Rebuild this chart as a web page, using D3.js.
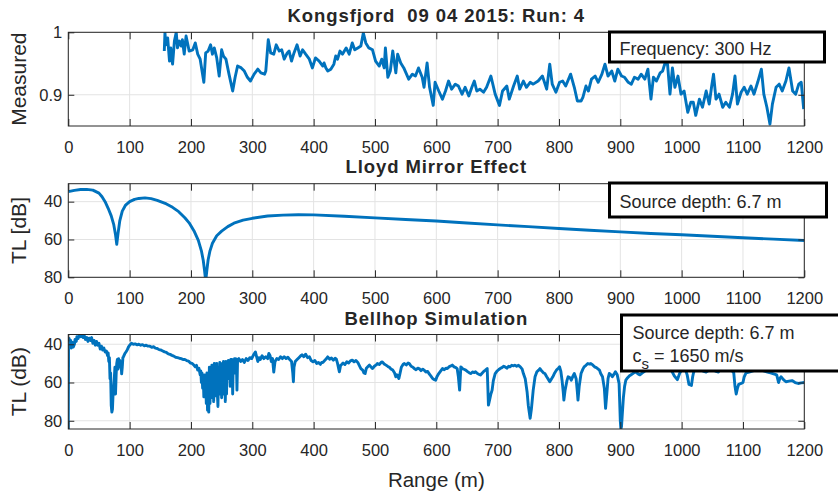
<!DOCTYPE html>
<html><head><meta charset="utf-8">
<script src="https://cdn.jsdelivr.net/npm/d3@7/dist/d3.min.js"></script>
<style>
body{margin:0;background:#fff}
svg text{font-family:"Liberation Sans",Arial,Helvetica,sans-serif;fill:#262626;white-space:pre}
</style></head>
<body><svg id="chart" width="838" height="492"></svg>
<script>
// ---------- data ----------
const xTicks = [0,100,200,300,400,500,600,700,800,900,1000,1100,1200];
const measuredTicks = [0.9, 1];
const tlTicks = [40, 60, 80];
const titles = ["Kongsfjord  09 04 2015: Run: 4", "Lloyd Mirror Effect", "Bellhop Simulation"];
const yLabels = ["Measured", "TL [dB]", "TL (dB)"];
const xLabel = "Range (m)";
const noteTop = "Frequency: 300 Hz";
const noteMid = "Source depth: 6.7 m";
const noteBot = ["Source depth: 6.7 m", "c", "s", " = 1650 m/s"];

// measured normalised level vs range (m)
const measured = [[156.5,0.970],[157.6,0.999],[159,0.980],[162,0.991],[165,0.954],[167,0.975],[170,0.949],[173,0.986],[176,1.0],[178,0.975],[181,0.986],[184,0.978],[186,0.988],[189,0.965],[192,0.994],[195,0.980],[197,0.970],[203,0.972],[207,0.983],[211,0.965],[215,0.957],[221,0.920],[224,0.967],[228,0.970],[232,0.980],[235,0.965],[238,0.975],[242,0.959],[246,0.930],[250,0.972],[253,0.962],[257,0.957],[262,0.933],[268,0.906],[272,0.928],[276,0.946],[282,0.943],[287,0.938],[292,0.928],[297,0.922],[303,0.933],[309,0.941],[314,0.935],[320,0.933],[322,0.938],[326,0.988],[330,0.967],[335,0.965],[339,0.980],[344,0.970],[348,0.972],[352,0.957],[357,0.967],[360,0.970],[364,0.954],[368,0.967],[373,0.980],[378,0.962],[382,0.972],[387,0.965],[393,0.957],[398,0.943],[403,0.959],[409,0.954],[415,0.946],[417,0.951],[420,0.943],[423,0.938],[428,0.941],[433,0.949],[436,0.962],[439,0.957],[443,0.970],[447,0.965],[453,0.975],[458,0.965],[463,0.983],[467,0.972],[472,0.975],[477,0.978],[481,0.999],[485,0.983],[490,0.975],[496,0.972],[501,0.954],[507,0.946],[511,0.957],[515,0.943],[517,0.975],[521,0.928],[525,0.938],[529,0.970],[534,0.935],[537,0.965],[542,0.951],[547,0.943],[555,0.925],[561,0.933],[566,0.930],[571,0.943],[577,0.928],[580,0.912],[585,0.951],[589,0.912],[595,0.883],[598,0.920],[604,0.906],[610,0.893],[615,0.906],[620,0.922],[625,0.909],[631,0.917],[636,0.914],[642,0.901],[647,0.912],[653,0.898],[658,0.912],[662,0.922],[666,0.906],[671,0.909],[677,0.904],[682,0.912],[689,0.930],[696,0.901],[703,0.883],[708,0.906],[715,0.914],[719,0.893],[726,0.914],[732,0.930],[736,0.909],[742,0.922],[747,0.912],[753,0.920],[758,0.917],[766,0.922],[773,0.930],[780,0.909],[785,0.949],[789,0.917],[795,0.904],[801,0.920],[806,0.922],[811,0.914],[819,0.933],[825,0.912],[830,0.890],[836,0.890],[839,0.896],[844,0.914],[848,0.906],[853,0.925],[859,0.930],[864,0.920],[870,0.933],[875,0.949],[880,0.930],[886,0.938],[891,0.922],[896,0.941],[902,0.930],[907,0.928],[913,0.920],[918,0.917],[923,0.928],[929,0.925],[934,0.933],[940,0.925],[945,0.941],[950,0.893],[954,0.928],[959,0.922],[965,0.935],[969,0.938],[973,0.951],[977,0.949],[981,0.901],[985,0.943],[989,0.912],[994,0.930],[999,0.901],[1004,0.906],[1010,0.872],[1015,0.888],[1019,0.888],[1023,0.867],[1029,0.893],[1034,0.880],[1040,0.906],[1045,0.885],[1049,0.914],[1052,0.933],[1056,0.893],[1061,0.901],[1067,0.880],[1072,0.888],[1078,0.880],[1083,0.901],[1087,0.930],[1091,0.885],[1097,0.904],[1102,0.912],[1107,0.901],[1113,0.914],[1118,0.901],[1124,0.920],[1130,0.941],[1134,0.901],[1139,0.880],[1144,0.853],[1148,0.885],[1154,0.912],[1159,0.917],[1164,0.906],[1170,0.922],[1175,0.943],[1181,0.906],[1186,0.901],[1191,0.917],[1195,0.920],[1199,0.877]];

// Lloyd mirror transmission loss (dB) vs range (m)
const lloyd = [[0,34.7],[10,34.0],[20,33.6],[30,33.5],[40,33.9],[50,35.5],[55,37.4],[60,40],[65,43.5],[70,47.5],[74,52],[77,57.5],[79,62.5],[81,57],[84,50],[88,45],[93,42],[100,40],[108,38.8],[115,38.3],[125,38],[135,38.4],[145,39.3],[160,41.2],[170,43],[180,45.3],[190,48.5],[197,51.2],[205,55.5],[212,60.5],[217,66],[220,71],[222,76],[224,82],[226,76],[228,70.7],[231,66],[235,62],[242,58],[250,55.6],[260,53.2],[270,51.4],[285,49.8],[300,48.8],[325,47.6],[350,47.1],[375,46.9],[400,47],[450,47.7],[500,48.6],[550,49.4],[600,50.2],[650,51.3],[700,52.3],[750,53.2],[800,54.2],[850,55.1],[900,56],[950,56.8],[1000,57.5],[1050,58.3],[1100,59.1],[1150,59.8],[1200,60.5]];

// Bellhop simulated transmission loss (dB) vs range (m)
const bellhop = [[0,84.3],[0.5,40],[1.5,37],[2.5,41],[4,38],[5,42],[6.5,39],[8,41.5],[10,40],[11,37.5],[13,38.5],[14,36],[16,37],[18,35.3],[20,36],[22,35.3],[24,36.5],[26,35.5],[28,37.5],[30,36.5],[32,38.5],[34,36.8],[36,38],[38,36.5],[40,39.5],[42,38],[44,40.5],[46,38.5],[48,40.5],[50,39.5],[52,42.5],[54,41],[56,43],[58,42],[60,44],[62,43.5],[64,46],[65,44.5],[66,49],[67,47],[68,58],[69,55],[70,72],[71,75.5],[72,74],[73,66],[74,62],[75,58],[76,52],[77,66],[78,56],[79,50],[80,48],[81,53],[82,47.5],[83,50],[84,48.5],[85,52],[86,50],[87,55.5],[88,52],[89,47],[90,46.5],[92,45],[94,44],[96,43],[98,41.5],[100,40.5],[103,39.5],[106,40],[109,39.8],[112,40.3],[115,40],[118,40.5],[121,40.2],[124,40.8],[127,40.5],[130,41],[133,41],[136,41.6],[139,41.3],[142,42],[145,42.2],[148,42.8],[151,43],[154,43.5],[157,44],[160,44.3],[163,45],[166,45.3],[169,45.8],[172,46.2],[175,46.8],[178,47],[181,47.3],[184,47.5],[187,48],[190,48],[193,48.5],[196,48.8],[199,49.8],[202,50],[205,51],[207,51.8],[209,51],[211,53.5],[213,52.5],[215,56],[216,54],[217,60],[218,55],[219,63],[220,57],[221,67.5],[222,56],[223,66],[224,58],[225,71],[226,55],[227,74.5],[228,60],[229,75.5],[230,52],[231,71],[232,55],[233,68],[234,51],[235,66],[236,54],[237,70],[238,50],[239,63],[240,52],[241,67],[242,50],[243,65],[244,72.5],[245,53],[246,66],[247,49.5],[248,64],[249,52],[250,68],[251,50],[252,66],[253,49],[254,60],[255,51],[256,70],[257,49],[258,66],[259,50.5],[260,58],[261,48.5],[262,56],[263,49],[264,62],[265,48],[266,55],[267,48],[268,66],[269,49],[270,51],[271,47.5],[272,55],[273,47.5],[274,48.5],[275,64],[276,48],[278,47.5],[281,49],[284,48],[287,49.5],[290,47.5],[293,48.5],[296,47],[299,47.5],[302,45.5],[305,44],[307,46.5],[309,49],[311,47],[313,48],[316,46],[319,47.5],[322,46.5],[325,47.5],[327,44.8],[329,46],[331,49],[333,47.5],[335,54.5],[337,49],[340,47.5],[343,48],[346,46.5],[349,47.5],[352,46.5],[355,47.5],[358,46.8],[361,48],[364,49],[366,55],[367,59.6],[368,52],[370,49],[373,48],[376,47],[379,46],[381,45.5],[384,46.5],[387,45.2],[390,47],[393,46.5],[396,48.5],[399,49.2],[402,48.5],[405,50],[408,49.5],[411,50.5],[413,49.5],[415,49.5],[418,48.5],[421,47.5],[423,46.6],[426,47.8],[429,47.2],[432,48.3],[435,47.3],[437,47.8],[439,50],[441,53],[442,54.4],[444,51],[446,50.5],[448,49.8],[451,50.6],[454,49.2],[457,49.8],[460,48.7],[463,48.3],[466,49.2],[469,48.5],[472,49.5],[474,50.8],[477,52.7],[480,53.5],[482,55],[484,55.3],[486,52.5],[489,51.5],[491,50.9],[494,52],[496,52.7],[499,51.5],[502,50.8],[504,50.1],[507,50.6],[510,49.5],[512,49.2],[515,50.3],[518,50.9],[521,51.6],[524,52.2],[526,52.9],[529,53.5],[532,55],[534,57],[536,56],[539,57.9],[541,55],[543,52],[546,50.5],[548,50.1],[551,50.8],[554,49.8],[556,50.1],[559,51.5],[562,52],[564,52.7],[567,53.3],[570,52.5],[572,52.7],[575,53.8],[578,53],[580,53.5],[583,54.5],[586,54.2],[588,55.3],[591,56.5],[594,57.9],[597,58.5],[599,58.8],[601,57],[604,55.3],[607,54],[610,52.7],[613,53.3],[616,52.5],[618,52.7],[621,51.7],[624,51.3],[626,50.9],[629,51.8],[632,52.2],[634,52.7],[636,57],[638,64],[639,58],[640,51.8],[643,52.8],[646,53.2],[648,53.5],[651,54.3],[654,55],[656,55.3],[659,54.5],[662,54.8],[664,54.4],[667,55.3],[670,55.8],[672,56.1],[675,55],[678,54],[680,53.5],[683,52.7],[684,62],[685,71.8],[687,69],[689,66],[691,64],[693,59],[696,55.3],[699,54],[702,53.2],[704,52.7],[707,52.2],[710,51.5],[712,51.8],[715,52.5],[718,51.5],[720,51.8],[723,51],[726,51.3],[728,50.9],[731,51.5],[734,51],[737,51.8],[740,53],[742,55.3],[745,58],[748,64.8],[750,72],[753,78.7],[755,74],[758,64],[761,57],[764,54.4],[767,53.5],[769,52.7],[772,54],[775,55],[777,55.3],[780,57],[783,58.5],[785,59.6],[788,58],[790,57],[793,55],[796,53.5],[799,52.5],[801,51.8],[803,54],[805,58.8],[807,65],[808,69.2],[810,64],[813,59],[815,57],[818,57.5],[820,58.8],[823,56.5],[825,55.3],[828,58],[830,65],[831,69.2],[833,62],[836,55.3],[839,53],[841,51.8],[844,51],[847,50.1],[850,50.4],[852,50.1],[855,50.8],[858,51.8],[861,52.2],[863,52.7],[866,53.5],[868,55.3],[871,57],[873,61],[874,63.1],[876,73.5],[878,66],[880,58],[882,55.3],[885,56],[887,57],[890,55.5],[892,54.4],[895,56],[897,59],[898,60.5],[899,70],[900,80],[901,84.3],[902,83],[903,77.8],[905,68],[907,62],[909,58.8],[912,57.5],[915,56.5],[917,56.1],[921,55.2],[925,54.4],[929,55.5],[932,56],[936,55],[940,54],[945,53],[950,52],[955,51.5],[960,51],[965,52],[970,53],[975,52.5],[980,52],[984,54],[988,56.5],[993,58.5],[997,55],[1001,53],[1005,52],[1009,56],[1012,61],[1016,61.5],[1018,57],[1020,54],[1025,53.5],[1030,53],[1035,54],[1040,54.5],[1045,53.5],[1050,53],[1055,54],[1060,54.5],[1065,52],[1070,52.5],[1075,52],[1080,53],[1085,55],[1087,62],[1089,66],[1091,63],[1093,61],[1097,60.5],[1100,60],[1102,57],[1105,55],[1110,54.5],[1115,54],[1120,53.5],[1125,53],[1130,53.5],[1135,54],[1140,54.5],[1145,55],[1150,55.5],[1155,56],[1158,60],[1160,58],[1162,57],[1166,58.5],[1170,59.6],[1175,59.3],[1180,59],[1185,60],[1190,60.5],[1195,60.2],[1200,60]];

// ---------- layout ----------
const svg = d3.select("#chart");
const L = 68.3, R = 804.3;
const BLUE = "#0072BD", AX = "#262626", GRID = "#e3e3e3";
const x = d3.scaleLinear().domain([0, 1200]).range([L, R]);

const panels = [
  {top: 32.3, bottom: 126, domain: [1, 0.85], ticks: measuredTicks, data: measured, titleY: 22},
  {top: 183.7, bottom: 277.3, domain: [30.5, 80], ticks: tlTicks, data: lloyd, titleY: 173},
  {top: 334.5, bottom: 429, domain: [34.9, 84.3], ticks: tlTicks, data: bellhop, titleY: 324.5}
];

panels.forEach((p, i) => {
  const y = d3.scaleLinear().domain(p.domain).range([p.top, p.bottom]);
  const g = svg.append("g");
  const h = p.bottom - p.top;

  // grid
  g.append("g").selectAll("line").data(xTicks).join("line")
    .attr("x1", d => x(d)).attr("x2", d => x(d)).attr("y1", p.top).attr("y2", p.bottom)
    .attr("stroke", GRID).attr("stroke-width", 1);
  g.append("g").selectAll("line").data(p.ticks).join("line")
    .attr("x1", L).attr("x2", R).attr("y1", d => y(d)).attr("y2", d => y(d))
    .attr("stroke", GRID).attr("stroke-width", 1);

  // data line
  const cid = "clip" + i;
  svg.append("clipPath").attr("id", cid).append("rect")
    .attr("x", L).attr("y", p.top).attr("width", R - L).attr("height", h);
  g.append("path").datum(p.data)
    .attr("clip-path", `url(#${cid})`)
    .attr("fill", "none").attr("stroke", BLUE).attr("stroke-width", 2.9)
    .attr("stroke-linejoin", "round")
    .attr("d", d3.line().x(d => x(d[0])).y(d => y(d[1])));

  // axes
  const fs = 16.5;
  const ax = g.append("g").attr("transform", `translate(0,${p.bottom})`)
    .call(d3.axisBottom(x).tickValues(xTicks).tickSizeInner(-7).tickSizeOuter(0)
      .tickPadding(26.5 - 0.71 * fs).tickFormat(d3.format("d")));
  const axT = g.append("g").attr("transform", `translate(0,${p.top})`)
    .call(d3.axisTop(x).tickValues(xTicks).tickSizeInner(-7).tickSizeOuter(0).tickFormat(""));
  const ay = g.append("g").attr("transform", `translate(${L},0)`)
    .call(d3.axisLeft(y).tickValues(p.ticks).tickSizeInner(-6).tickSizeOuter(0).tickPadding(6)
      .tickFormat(d => String(d)));
  const ayR = g.append("g").attr("transform", `translate(${R},0)`)
    .call(d3.axisRight(y).tickValues(p.ticks).tickSizeInner(-6).tickSizeOuter(0).tickFormat(""));
  [ax, axT, ay, ayR].forEach(a => {
    a.select(".domain").remove();
    a.selectAll("line").attr("stroke", AX);
    a.selectAll("text").attr("fill", AX).style("font-size", fs + "px")
      .style("font-family", '"Liberation Sans",Arial,sans-serif');
  });
  g.append("rect").attr("x", L).attr("y", p.top).attr("width", R - L).attr("height", h)
    .attr("fill", "none").attr("stroke", AX).attr("stroke-width", 1);

  // title
  svg.append("text").attr("x", (L + R) / 2).attr("y", p.titleY).attr("text-anchor", "middle")
    .attr("xml:space", "preserve")
    .style("font-size", "18.5px").style("font-weight", "bold").style("letter-spacing", "0.9px")
    .attr("fill", "#000").text(titles[i]);
  // y label
  svg.append("text").attr("transform", `translate(26,${(p.top + p.bottom) / 2}) rotate(-90)`)
    .attr("text-anchor", "middle").style("font-size", "21px").text(yLabels[i]);
});

svg.append("text").attr("x", (L + R) / 2).attr("y", 486.5).attr("text-anchor", "middle")
  .style("font-size", "20.5px").text(xLabel);

// ---------- annotation boxes ----------
function box(x0, y0, w, hh) {
  svg.append("rect").attr("x", x0).attr("y", y0).attr("width", w).attr("height", hh)
    .attr("fill", "#fff").attr("stroke", "#000").attr("stroke-width", 3);
}
box(609.5, 32, 215, 30);
svg.append("text").attr("x", 619.5).attr("y", 55).style("font-size", "18px").text(noteTop);
box(609.5, 183, 217, 34);
svg.append("text").attr("x", 619.5).attr("y", 207.5).style("font-size", "18px").text(noteMid);
box(621.5, 315, 230, 56);
svg.append("text").attr("x", 632.5).attr("y", 338.5).style("font-size", "18px").text(noteBot[0]);
const t2 = svg.append("text").attr("x", 632.5).attr("y", 361.5).style("font-size", "18px");
t2.append("tspan").text(noteBot[1]);
t2.append("tspan").attr("dy", 7).style("font-size", "15px").text(noteBot[2]);
t2.append("tspan").attr("dy", -7).text(noteBot[3]);
</script>
</body></html>
